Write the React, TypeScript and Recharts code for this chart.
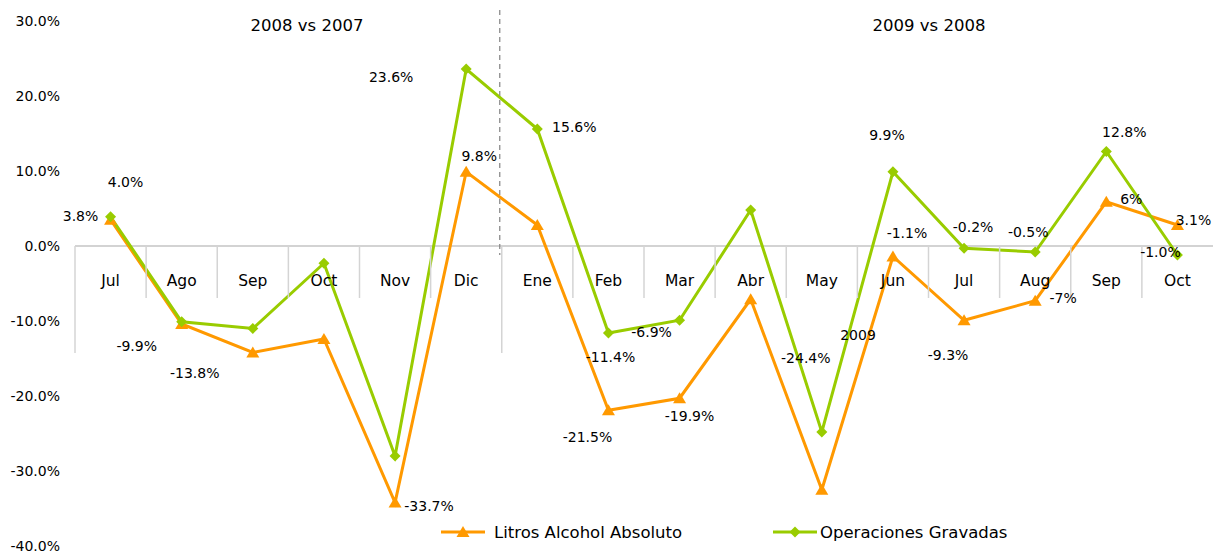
import React from "react";
import { LineChart, Line, XAxis, YAxis, ReferenceLine, ReferenceDot } from "recharts";

// months shown under the zero line; two seasons (2008 vs 2007, 2009 vs 2008)
const MONTHS = ["Jul", "Ago", "Sep", "Oct", "Nov", "Dic", "Ene", "Feb", "Mar", "Abr", "May", "Jun", "Jul", "Aug", "Sep", "Oct"];
const PERIODS = ["Jul-08", "Ago-08", "Sep-08", "Oct-08", "Nov-08", "Dic-08", "Ene-09", "Feb-09", "Mar-09", "Abr-09", "May-09", "Jun-09", "Jul-09", "Aug-09", "Sep-09", "Oct-09"];

// % change
const LITROS = [3.5, -10.4, -14.2, -12.4, -34.2, 9.9, 2.8, -21.9, -20.3, -7.1, -32.5, -1.4, -9.9, -7.3, 5.9, 2.8];
const OPERACIONES = [3.9, -10.1, -11.0, -2.3, -28.0, 23.6, 15.6, -11.6, -9.9, 4.8, -24.8, 9.9, -0.3, -0.8, 12.6, -1.2];

// data labels as printed on the original
const LITROS_LABELS = ["3.8%", "-13.8%", "", "", "-33.7%", "9.8%", "", "-21.5%", "-19.9%", "", "", "-1.1%", "-9.3%", "-7%", "6%", "3.1%"];
const OPERACIONES_LABELS = ["4.0%", "-9.9%", "", "", "", "23.6%", "15.6%", "-11.4%", "-6.9%", "", "-24.4%", "9.9%", "-0.2%", "-0.5%", "12.8%", "-1.0%"];

const Y_TICKS = [-40, -30, -20, -10, 0, 10, 20, 30];

// where each label sits relative to its point (dx, dy)
const LITROS_LABEL_OFFSETS: [number, number][] = [
  [-30, -4], [13, 49], [0, 0], [0, 0], [34, 3], [13, -16], [0, 0], [-21, 27],
  [10, 18], [0, 0], [0, 0], [14, -24], [-16, 35], [28, -3], [25, -3], [16, -5],
];
const OPERACIONES_LABEL_OFFSETS: [number, number][] = [
  [15, -35], [-45, 24], [0, 0], [0, 0], [0, 0], [-75, 8], [37, -2], [2, 24],
  [-28, 12], [0, 0], [-16, -74], [-6, -37], [9, -21], [-7, -20], [18, -20], [-17, -3],
];

const W = 1213;
const H = 558;
const AXIS_W = 75;
const BAND = (W - AXIS_W) / MONTHS.length;
const ORANGE = "#FF9900";
const GREEN = "#99CC00";
const FONT = '"DejaVu Sans", Verdana, sans-serif';

const data = PERIODS.map((p, i) => ({
  period: p,
  litros: LITROS[i],
  operaciones: OPERACIONES[i],
}));

function makeDot(kind: "tri" | "dia", color: string, labels: string[], offsets: [number, number][]) {
  return (props: any) => {
    const { cx, cy, index } = props;
    if (cx == null || cy == null) return <g key={`${kind}-${index}`} />;
    const text = labels[index];
    const [dx, dy] = offsets[index];
    return (
      <g key={`${kind}-${index}`}>
        {kind === "tri" ? (
          <path d={`M${cx},${cy - 6} L${cx + 6.5},${cy + 5} L${cx - 6.5},${cy + 5} Z`} fill={color} />
        ) : (
          <path d={`M${cx},${cy - 5.5} L${cx + 5.5},${cy} L${cx},${cy + 5.5} L${cx - 5.5},${cy} Z`} fill={color} />
        )}
        {text && (
          <text x={cx + dx} y={cy + dy} textAnchor="middle" dominantBaseline="central" fontSize={14} fontFamily={FONT} fill="#000">
            {text}
          </text>
        )}
      </g>
    );
  };
}

function CategoryMark({ cx, cy, i }: { cx: number; cy: number; i: number }) {
  if (cx == null || cy == null) return null;
  const x0 = cx - BAND / 2;
  const long = i === 0 || i === 6;
  return (
    <g>
      <line x1={x0} y1={cy} x2={x0} y2={cy + (long ? 107 : 52)} stroke="#d4d4d4" strokeWidth={1.5} />
      <text x={cx} y={cy + 35} textAnchor="middle" dominantBaseline="central" fontSize={15.5} fontFamily={FONT} fill="#000">
        {MONTHS[i]}
      </text>
      {i === 6 && (
        <line x1={x0 - 2} y1={cy - 236} x2={x0 - 2} y2={cy + 9} stroke="#8c8c8c" strokeWidth={1.3} strokeDasharray="5 4" />
      )}
    </g>
  );
}

function LegendItem({ kind, color, label, left, textLeft }: { kind: "tri" | "dia"; color: string; label: string; left: number; textLeft: number }) {
  return (
    <>
      <svg style={{ position: "absolute", left, top: 524 }} width={44} height={16}>
        <line x1={0} y1={8} x2={44} y2={8} stroke={color} strokeWidth={3} />
        {kind === "tri" ? (
          <path d="M22,2 L28.5,13 L15.5,13 Z" fill={color} />
        ) : (
          <path d="M22,2.5 L27.5,8 L22,13.5 L16.5,8 Z" fill={color} />
        )}
      </svg>
      <div style={{ position: "absolute", left: textLeft, top: 532, transform: "translateY(-50%)", fontSize: 16.5, fontFamily: FONT, color: "#000", whiteSpace: "nowrap" }}>
        {label}
      </div>
    </>
  );
}

const textAt = (x: number, y: number, size: number): React.CSSProperties => ({
  position: "absolute",
  left: x,
  top: y,
  transform: "translate(-50%, -50%)",
  fontSize: size,
  fontFamily: FONT,
  color: "#000",
  whiteSpace: "nowrap",
});

export default function App() {
  return (
    <div style={{ position: "relative", width: W, height: H, background: "#fff", overflow: "hidden" }}>
      <style>{"body{margin:0}"}</style>
      <LineChart width={W} height={H} data={data} margin={{ top: 21, right: 0, bottom: 12, left: 0 }}>
        <XAxis dataKey="period" hide scale="band" />
        <YAxis
          domain={[-40, 30]}
          ticks={Y_TICKS}
          width={AXIS_W}
          axisLine={false}
          tickLine={false}
          tickSize={0}
          tickMargin={15}
          tickFormatter={(v: number) => `${v.toFixed(1)}%`}
          tick={{ fill: "#000", fontSize: 14, fontFamily: FONT }}
        />
        <ReferenceLine y={0} stroke="#c4c4c4" strokeWidth={1.5} />
        {PERIODS.map((p, i) => (
          <ReferenceDot
            key={p}
            x={p}
            y={0}
            r={0}
            ifOverflow="visible"
            shape={(props: any) => <CategoryMark cx={props.cx} cy={props.cy} i={i} />}
          />
        ))}
        <Line
          type="linear"
          dataKey="litros"
          name="Litros Alcohol Absoluto"
          stroke={ORANGE}
          strokeWidth={3}
          dot={makeDot("tri", ORANGE, LITROS_LABELS, LITROS_LABEL_OFFSETS)}
          activeDot={false}
          isAnimationActive={false}
        />
        <Line
          type="linear"
          dataKey="operaciones"
          name="Operaciones Gravadas"
          stroke={GREEN}
          strokeWidth={3}
          dot={makeDot("dia", GREEN, OPERACIONES_LABELS, OPERACIONES_LABEL_OFFSETS)}
          activeDot={false}
          isAnimationActive={false}
        />
      </LineChart>
      <div style={textAt(307, 25, 16.5)}>2008 vs 2007</div>
      <div style={textAt(929, 25, 16.5)}>2009 vs 2008</div>
      <div style={textAt(858, 335, 14)}>2009</div>
      <LegendItem kind="tri" color={ORANGE} label="Litros Alcohol Absoluto" left={441} textLeft={494} />
      <LegendItem kind="dia" color={GREEN} label="Operaciones Gravadas" left={773} textLeft={820} />
    </div>
  );
}
